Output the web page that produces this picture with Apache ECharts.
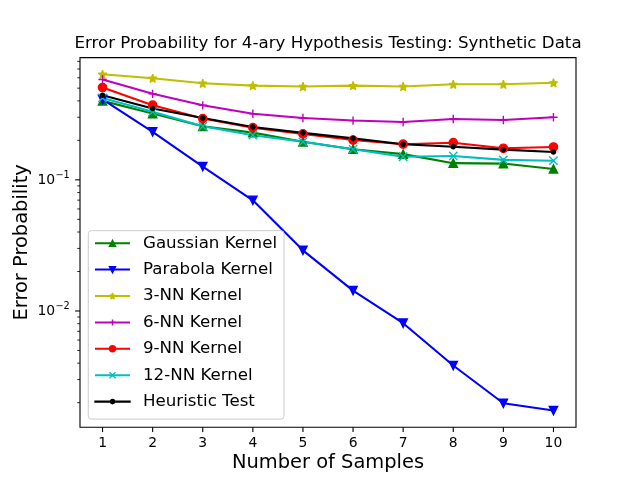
<!DOCTYPE html>
<html>
<head>
<meta charset="utf-8">
<script src="https://cdn.jsdelivr.net/npm/echarts@6/dist/echarts.min.js"></script>
<style>html,body{margin:0;padding:0;background:#fff;}#c{width:640px;height:480px;}</style>
</head>
<body>
<div id="c"></div>
<script>
var samples = [1, 2, 3, 4, 5, 6, 7, 8, 9, 10];
var gaussian = [0.400, 0.320, 0.256, 0.229, 0.195, 0.171, 0.157, 0.134, 0.133, 0.121];
var parabola = [0.410, 0.232, 0.126, 0.0698, 0.0290, 0.0143, 0.00807, 0.00384, 0.00198, 0.00174];
var nn3 = [0.638, 0.595, 0.545, 0.523, 0.515, 0.523, 0.515, 0.535, 0.535, 0.549];
var nn6 = [0.582, 0.453, 0.370, 0.319, 0.296, 0.283, 0.276, 0.291, 0.286, 0.300];
var nn9 = [0.506, 0.371, 0.293, 0.250, 0.224, 0.201, 0.187, 0.192, 0.174, 0.178];
var nn12 = [0.421, 0.330, 0.256, 0.219, 0.195, 0.171, 0.150, 0.152, 0.142, 0.140];
var heuristic = [0.442, 0.350, 0.296, 0.253, 0.228, 0.207, 0.187, 0.179, 0.170, 0.163];

var xTicks = [1, 2, 3, 4, 5, 6, 7, 8, 9, 10];
var yMajorTicks = [0.01, 0.1];
var yMajorLabels = [['10', '\u22122'], ['10', '\u22121']];
var yMinorTicks = [0.002, 0.003, 0.004, 0.005, 0.006, 0.007, 0.008, 0.009,
                   0.02, 0.03, 0.04, 0.05, 0.06, 0.07, 0.08, 0.09,
                   0.2, 0.3, 0.4, 0.5, 0.6, 0.7, 0.8];
var xMin = 0.55, xMax = 10.45, yMin = 0.00130, yMax = 0.855;

var FONT = '"DejaVu Sans", sans-serif';
function pairs(arr) { return samples.map(function (s, i) { return [s, arr[i]]; }); }

var STAR = 'path://M0,-1 L0.2245,-0.309 L0.951,-0.309 L0.363,0.118 L0.588,0.809 L0,0.382 L-0.588,0.809 L-0.363,0.118 L-0.951,-0.309 L-0.2245,-0.309 Z';
var TRI_DOWN = 'path://M-1,-1 L1,-1 L0,1 Z';
var PLUS = 'path://M0,-1 L0,1 M-1,0 L1,0';
var CROSS = 'path://M-1,-1 L1,1 M-1,1 L1,-1';
// legend icon for the small '.' marker: box 35 x 7.5 (invisible zero-length anchors), thin bar plus a small dot
var DOT_LEGEND = 'path://M0,0 L0,0 M0,7.5 L0,7.5 M0,3.4 L35,3.4 L35,4.1 L0,4.1 Z M15.4,3.75 A2.1,2.1 0 1,1 19.6,3.75 A2.1,2.1 0 1,1 15.4,3.75 Z';

function mkSeries(name, arr, color, symbol, size, join) {
  return {
    name: name, type: 'line', data: pairs(arr),
    symbol: symbol, symbolSize: size, showAllSymbol: true,
    lineStyle: { color: color, width: 2.08 },
    itemStyle: { color: color, borderColor: color, borderWidth: 1.39, borderJoin: join || 'miter' },
    emphasis: { disabled: true }, silent: true
  };
}

var series = [
  mkSeries('Gaussian Kernel', gaussian, '#008000', 'triangle', 8.3),
  mkSeries('Parabola Kernel', parabola, '#0000ff', TRI_DOWN, 8.3),
  mkSeries('3-NN Kernel', nn3, '#bfbf00', STAR, 8.3, 'bevel'),
  mkSeries('6-NN Kernel', nn6, '#bf00bf', PLUS, 8.3),
  mkSeries('9-NN Kernel', nn9, '#ff0000', 'circle', 8.3),
  mkSeries('12-NN Kernel', nn12, '#00bfbf', CROSS, 8.3),
  mkSeries('Heuristic Test', heuristic, '#000000', 'circle', 4.2)
];

series.push({
  type: 'custom', silent: true, clip: false, z: 10,
  data: [[1, 0.1]],
  renderItem: function (params, api) {
    var cs = params.coordSys;
    var left = cs.x, bottom = cs.y + cs.height;
    var ch = [];
    xTicks.forEach(function (t) {
      var px = api.coord([t, yMin])[0];
      ch.push({ type: 'line', shape: { x1: px, y1: bottom, x2: px, y2: bottom + 4.86 },
        style: { stroke: '#000', lineWidth: 1.1 } });
      ch.push({ type: 'text', x: px, y: bottom + 16.3,
        style: { text: String(t), fill: '#000', fontSize: 13.9, fontFamily: FONT, align: 'center', verticalAlign: 'middle' } });
    });
    yMinorTicks.forEach(function (v) {
      var py = api.coord([xMin, v])[1];
      ch.push({ type: 'line', shape: { x1: left - 2.78, y1: py, x2: left, y2: py },
        style: { stroke: '#000', lineWidth: 0.83 } });
    });
    yMajorTicks.forEach(function (v, i) {
      var py = api.coord([xMin, v])[1];
      ch.push({ type: 'line', shape: { x1: left - 4.86, y1: py, x2: left, y2: py },
        style: { stroke: '#000', lineWidth: 1.1 } });
      ch.push({ type: 'text', x: left - 24.8, y: py + 0.5,
        style: { text: yMajorLabels[i][0], fill: '#000', fontSize: 13.9, fontFamily: FONT, align: 'right', verticalAlign: 'middle' } });
      ch.push({ type: 'text', x: left - 24.5, y: py - 4.5,
        style: { text: yMajorLabels[i][1], fill: '#000', fontSize: 9.7, fontFamily: FONT, align: 'left', verticalAlign: 'middle' } });
    });
    return { type: 'group', children: ch };
  }
});

var legendData = series.slice(0, 7).map(function (s) { return { name: s.name }; });
legendData[6].icon = DOT_LEGEND;

var chart = echarts.init(document.getElementById('c'), null, { renderer: 'canvas' });
chart.setOption({
  animation: false,
  backgroundColor: '#ffffff',
  grid: { left: 80, right: 64, top: 57.6, bottom: 52.8, show: true, borderColor: '#000', borderWidth: 1.1, backgroundColor: 'transparent' },
  xAxis: { type: 'value', min: xMin, max: xMax,
    axisLine: { show: false }, axisTick: { show: false }, axisLabel: { show: false }, splitLine: { show: false } },
  yAxis: { type: 'log', logBase: 10, min: yMin, max: yMax,
    axisLine: { show: false }, axisTick: { show: false }, axisLabel: { show: false }, splitLine: { show: false }, minorTick: { show: false } },
  legend: {
    orient: 'vertical', left: 88.3, top: 230.7,
    padding: [4, 7, 9, 5.7], itemGap: 9.4, itemWidth: 35, itemHeight: 7.5,
    backgroundColor: 'rgba(255,255,255,0.8)', borderColor: '#cccccc', borderWidth: 1, borderRadius: 3,
    selectedMode: false,
    itemStyle: { borderWidth: 1.39 },
    textStyle: { fontSize: 16.67, fontFamily: FONT, color: '#000', padding: [0, 0, 0, 8] },
    data: legendData
  },
  graphic: [
    { type: 'text', x: 328, y: 43.5, style: { text: 'Error Probability for 4-ary Hypothesis Testing: Synthetic Data', fill: '#000', fontSize: 16.67, fontFamily: FONT, align: 'center', verticalAlign: 'middle' } },
    { type: 'text', x: 328, y: 463, style: { text: 'Number of Samples', fill: '#000', fontSize: 19.44, fontFamily: FONT, align: 'center', verticalAlign: 'middle' } },
    { type: 'text', x: 22, y: 242.4, rotation: Math.PI / 2, style: { text: 'Error Probability', fill: '#000', fontSize: 19.44, fontFamily: FONT, align: 'center', verticalAlign: 'middle' } }
  ],
  series: series
});
</script>
</body>
</html>
